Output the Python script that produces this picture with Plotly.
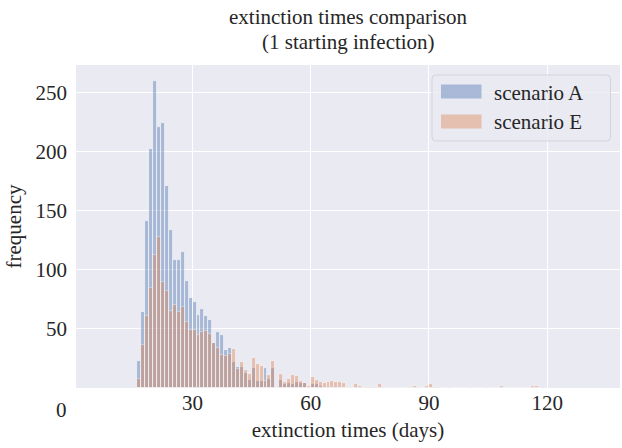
import plotly.graph_objects as go

# bin start day (1-day bins) and counts
days_A = list(range(16, 71))
counts_A = [23, 64, 141, 202, 260, 221, 224, 171, 134, 108,
            108, 115, 91, 76, 73, 62, 67, 61, 58, 38,
            47, 45, 32, 34, 22, 18, 18, 13, 7, 17,
            6, 6, 17, 8, 17, 1, 7, 3, 4, 3,
            5, 4, 4, 0, 3, 3, 2, 0, 1, 0,
            1, 0, 0, 0, 1]

days_E = list(range(16, 118))
counts_E = [8, 36, 61, 85, 113, 128, 90, 82, 65, 70,
            64, 69, 56, 49, 49, 45, 47, 48, 46, 38,
            34, 28, 27, 29, 33, 16, 22, 15, 12, 25,
            20, 19, 6, 11, 23, 0, 12, 5, 8, 11,
            10, 6, 4, 2, 9, 7, 5, 4, 5, 6,
            5, 5, 4, 1, 0, 3, 2, 1, 1, 1,
            1, 3, 1, 0, 0, 1, 0, 0, 0, 1,
            2, 1, 0, 2, 3, 1, 1, 0, 0, 1,
            0, 0, 0, 0, 1, 0, 0, 0, 1, 0,
            0, 0, 2, 0, 0, 0, 0, 0, 0, 0, 2, 2]

x_ticks = [30, 60, 90, 120]
y_ticks = [50, 100, 150, 200, 250]
series_names = ["scenario A", "scenario E"]
series_colors = ["#4C72B0", "#DD8452"]
title_lines = ["extinction times comparison", "(1 starting infection)"]
ALPHA = 0.42
FONT = "Liberation Serif, Times New Roman, serif"
TXT = "#262626"

fig = go.Figure()
for name, color, d, c in [(series_names[0], series_colors[0], days_A, counts_A),
                          (series_names[1], series_colors[1], days_E, counts_E)]:
    fig.add_trace(go.Bar(
        x=[v + 0.5 for v in d], y=c, width=1.0, name=name,
        marker=dict(color=color, line=dict(color="white", width=0.8)),
        opacity=ALPHA, showlegend=False,
    ))

# manual matplotlib-style legend (paper coords)
L, R, B, T = 76, 620, 388, 65
W, H = R - L, B - T
def px(x):
    return (x - L) / W
def py(y):
    return (B - y) / H

x0, x1, y0, y1, r = px(432), px(610.5), py(141), py(75), 4
rx, ry = r / W, r / H
path = (f"M {x0+rx},{y1} L {x1-rx},{y1} Q {x1},{y1} {x1},{y1-ry} "
        f"L {x1},{y0+ry} Q {x1},{y0} {x1-rx},{y0} L {x0+rx},{y0} "
        f"Q {x0},{y0} {x0},{y0+ry} L {x0},{y1-ry} Q {x0},{y1} {x0+rx},{y1} Z")
shapes = [dict(type="path", xref="paper", yref="paper", path=path,
               fillcolor="rgba(234,234,242,0.8)", line=dict(color="#d3d3dc", width=1),
               layer="above")]
annotations = []
for i, (name, color) in enumerate(zip(series_names, series_colors)):
    yc = 91.5 + i * 30
    shapes.append(dict(type="rect", xref="paper", yref="paper",
                       x0=px(441), x1=px(481.5), y0=py(yc + 7), y1=py(yc - 7),
                       fillcolor=color, opacity=ALPHA, line=dict(width=0), layer="above"))
    annotations.append(dict(xref="paper", yref="paper", x=px(492), y=py(yc + 1),
                            text=name, showarrow=False, xanchor="left", yanchor="middle",
                            font=dict(family=FONT, size=21, color=TXT)))

# corner "0" label shared by both axes
annotations.append(dict(xref="paper", yref="paper", x=px(61.5), y=py(410), text="0",
                        showarrow=False, xanchor="center", yanchor="middle",
                        font=dict(family=FONT, size=21, color=TXT)))

# two-line title
for i, line in enumerate(title_lines):
    annotations.append(dict(xref="paper", yref="paper", x=0.5, y=py(16.5 + 25 * i),
                            text=line, showarrow=False, xanchor="center", yanchor="middle",
                            font=dict(family=FONT, size=21, color=TXT)))

fig.update_layout(
    width=622, height=448,
    margin=dict(l=L, r=622 - R, t=T, b=448 - B, autoexpand=False),
    paper_bgcolor="white", plot_bgcolor="#EAEAF2",
    barmode="overlay", bargap=0,
    font=dict(family=FONT, size=21, color=TXT),
    shapes=shapes, annotations=annotations,
    xaxis=dict(range=[0.4, 138.5], tickvals=x_ticks, ticktext=[str(v) for v in x_ticks],
               showgrid=True, gridcolor="white", gridwidth=1.3, zeroline=False,
               showline=False, ticks="", ticklabelstandoff=0, automargin=False,
               title=dict(text="extinction times (days)", standoff=8,
                          font=dict(family=FONT, size=21, color=TXT))),
    yaxis=dict(range=[0, 273.5], tickvals=y_ticks, ticktext=[str(v) for v in y_ticks],
               showgrid=True, gridcolor="white", gridwidth=1.3, zeroline=False,
               showline=False, ticks="", ticklabelstandoff=8, automargin=False,
               title=dict(text="frequency", standoff=8,
                          font=dict(family=FONT, size=21, color=TXT))),
)

fig.write_html("out.html", config={"displayModeBar": False},
               post_script="document.body.style.margin='0';")
